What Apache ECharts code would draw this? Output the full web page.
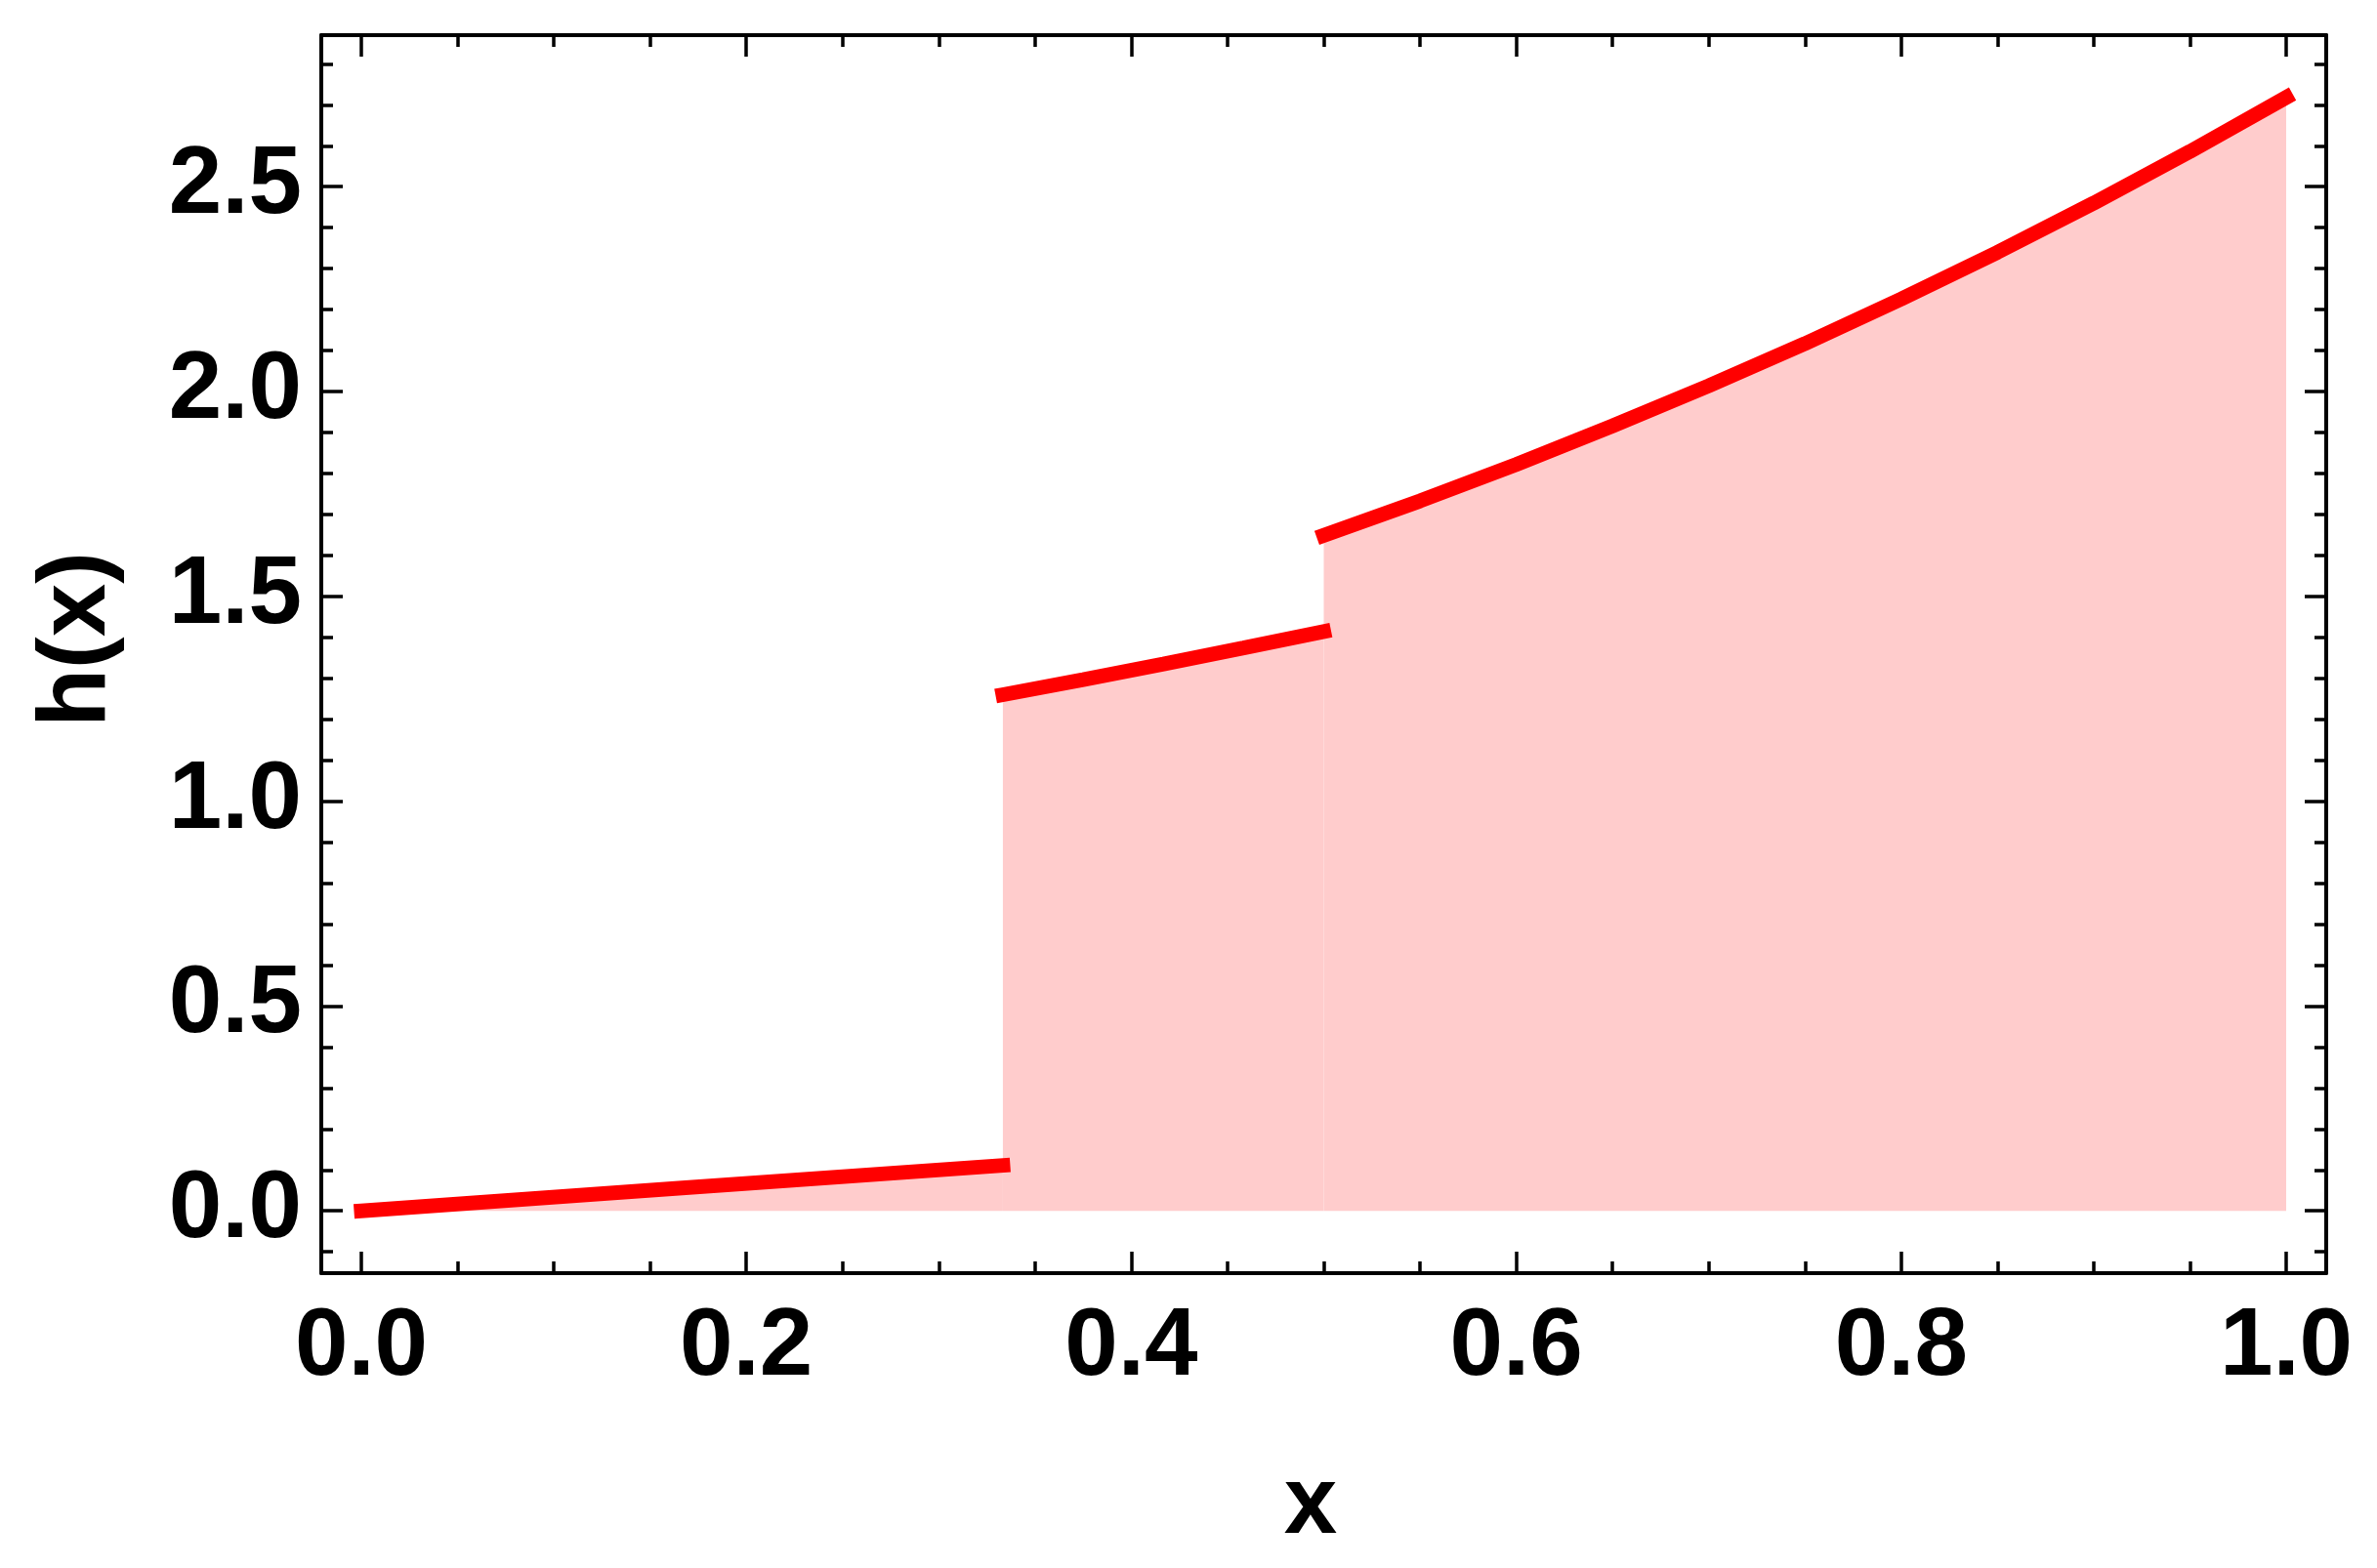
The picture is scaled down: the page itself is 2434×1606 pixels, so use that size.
<!DOCTYPE html>
<html>
<head>
<meta charset="utf-8">
<script src="https://cdn.jsdelivr.net/npm/echarts@6/dist/echarts.min.js"></script>
<style>
html,body{margin:0;padding:0;background:#fff;}
#c{width:2434px;height:1606px;}
</style>
</head>
<body>
<div id="c"></div>
<script>
// ---- data ----
const xMajor = [0, 0.2, 0.4, 0.6, 0.8, 1.0];
const xMinor = [0.05, 0.1, 0.15, 0.25, 0.3, 0.35, 0.45, 0.5, 0.55, 0.65, 0.7, 0.75, 0.85, 0.9, 0.95];
const yMajor = [0, 0.5, 1.0, 1.5, 2.0, 2.5];
const yMinor = [-0.1, 0.1, 0.2, 0.3, 0.4, 0.6, 0.7, 0.8, 0.9, 1.1, 1.2, 1.3, 1.4, 1.6, 1.7, 1.8, 1.9, 2.1, 2.2, 2.3, 2.4, 2.6, 2.7, 2.8];

const seg1X = [0, 0.1667, 0.3333];
const seg1Y = [0, 0.056, 0.111];
const seg2X = [0.3333, 0.375, 0.4167, 0.4583, 0.5];
const seg2Y = [1.26, 1.297, 1.335, 1.374, 1.414];
const seg3X = [0.5, 0.55, 0.6, 0.65, 0.7, 0.75, 0.8, 0.85, 0.9, 0.95, 1.0];
const seg3Y = [1.649, 1.733, 1.822, 1.916, 2.014, 2.117, 2.226, 2.340, 2.460, 2.586, 2.718];

const xName = 'x';
const yName = 'h(x)';

// ---- chart ----
const FONT = 'Liberation Sans';
const FS = 98;
const X_MIN = -0.0208, X_MAX = 1.0208;
const Y_MIN = -0.152, Y_MAX = 2.870;

function pairs(xs, ys) { return xs.map((x, i) => [x, ys[i]]); }

function xAxisDef(pos, ticks, len, main) {
  return {
    type: 'value', position: pos, min: X_MIN, max: X_MAX,
    axisLine: { show: main, onZero: false, lineStyle: { color: '#000', width: 4 } },
    axisTick: { show: true, inside: true, length: len, customValues: ticks,
                lineStyle: { color: '#000', width: 3.5 } },
    axisLabel: { show: main && pos === 'bottom', customValues: xMajor, margin: 28,
                 formatter: v => v.toFixed(1), color: '#000',
                 fontFamily: FONT, fontWeight: 'bold', fontSize: FS },
    splitLine: { show: false }, minorTick: { show: false },
    name: (main && pos === 'bottom') ? xName : '',
    nameLocation: 'middle', nameGap: 190,
    nameTextStyle: { color: '#000', fontFamily: FONT, fontWeight: 'bold', fontSize: FS, padding: [0, 27, 0, 0] }
  };
}
function yAxisDef(pos, ticks, len, main) {
  return {
    type: 'value', position: pos, min: Y_MIN, max: Y_MAX,
    axisLine: { show: main, onZero: false, lineStyle: { color: '#000', width: 4 } },
    axisTick: { show: true, inside: true, length: len, customValues: ticks,
                lineStyle: { color: '#000', width: 3.5 } },
    axisLabel: { show: main && pos === 'left', customValues: yMajor, margin: 20,
                 formatter: v => v.toFixed(1), color: '#000',
                 fontFamily: FONT, fontWeight: 'bold', fontSize: FS },
    splitLine: { show: false }, minorTick: { show: false },
    name: (main && pos === 'left') ? yName : '',
    nameLocation: 'middle', nameGap: 200,
    nameTextStyle: { color: '#000', fontFamily: FONT, fontWeight: 'bold', fontSize: FS, padding: [0, 0, 0, 30] }
  };
}

function seg(xs, ys) {
  return {
    type: 'line', xAxisIndex: 0, yAxisIndex: 0,
    data: pairs(xs, ys), showSymbol: false, symbol: 'none', smooth: false,
    lineStyle: { color: '#ff0000', width: 15, cap: 'square' },
    areaStyle: { color: '#ffcccc', opacity: 1 },
    silent: true
  };
}

const chart = echarts.init(document.getElementById('c'), null, { renderer: 'canvas' });
chart.setOption({
  animation: false,
  backgroundColor: '#ffffff',
  grid: { left: 329, right: 52, top: 36, bottom: 302, containLabel: false, outerBoundsMode: 'none' },
  xAxis: [
    xAxisDef('bottom', xMajor, 22, true),
    xAxisDef('bottom', xMinor, 12, false),
    xAxisDef('top', xMajor, 22, true),
    xAxisDef('top', xMinor, 12, false)
  ],
  yAxis: [
    yAxisDef('left', yMajor, 22, true),
    yAxisDef('left', yMinor, 12, false),
    yAxisDef('right', yMajor, 22, true),
    yAxisDef('right', yMinor, 12, false)
  ],
  series: [seg(seg1X, seg1Y), seg(seg2X, seg2Y), seg(seg3X, seg3Y)]
});
</script>
</body>
</html>
